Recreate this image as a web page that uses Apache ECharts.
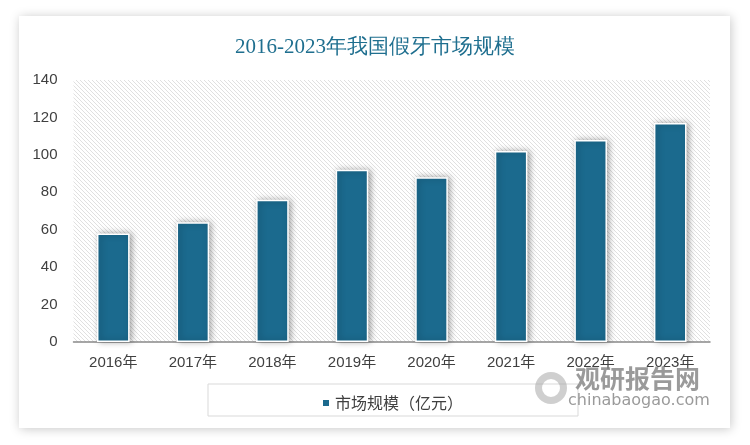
<!DOCTYPE html>
<html><head><meta charset="utf-8">
<script src="https://cdn.jsdelivr.net/npm/echarts@6/dist/echarts.min.js"></script>
<style>html,body{margin:0;padding:0;background:#fff;}#c{width:750px;height:445px;}</style>
</head><body><div id="c"></div>
<script>
var categories = ['2016年','2017年','2018年','2019年','2020年','2021年','2022年','2023年'];
var marketSize = [58, 64, 76, 92, 88, 102, 108, 117];
var seriesName = '市场规模（亿元）';
var titleText = '2016-2023年我国假牙市场规模';

var pc = document.createElement('canvas');
pc.width = 4; pc.height = 4;
var g = pc.getContext('2d');
g.fillStyle = '#ffffff'; g.fillRect(0,0,4,4);
g.strokeStyle = '#e0e0e0'; g.lineWidth = 1;
g.beginPath();
g.moveTo(-1,-1); g.lineTo(5,5);
g.moveTo(-1,3); g.lineTo(1,5);
g.moveTo(3,-1); g.lineTo(5,1);
g.stroke();

var chart = echarts.init(document.getElementById('c'));
chart.setOption({
  animation: false,
  title: {
    text: titleText, left: 'center', top: 32,
    textStyle: {color: '#1f6f8f', fontSize: 21, fontWeight: 'normal', fontFamily: 'Liberation Serif, DejaVu Serif, serif'}
  },
  graphic: [
    {type: 'rect', z: -10, shape: {x: 19, y: 16, width: 711, height: 412},
     style: {fill: '#fff', shadowBlur: 10, shadowColor: 'rgba(0,0,0,0.22)', shadowOffsetX: 1, shadowOffsetY: 1}},
    {type: 'rect', z: 1, shape: {x: 208, y: 384, width: 370, height: 32},
     style: {fill: 'none', stroke: '#d9d9d9', lineWidth: 1}},
    {type: 'text', z: 20, left: 575, top: 366,
     style: {text: '观研报告网', fill: 'rgba(120,120,120,0.75)', font: 'bold 25px "Noto Sans CJK SC"'}},
    {type: 'text', z: 20, left: 568, top: 393,
     style: {text: 'chinabaogao.com', fill: 'rgba(120,120,120,0.75)', font: '16px "DejaVu Sans"'}},
    {type: 'ring', z: 20, shape: {cx: 551, cy: 388, r: 16, r0: 9},
     style: {fill: 'rgba(160,160,160,0.5)'}}
  ],
  legend: {
    data: [seriesName], left: 316, top: 390, icon: 'rect', itemWidth: 8, itemHeight: 8, itemGap: 6,
    textStyle: {fontSize: 16, color: '#404040', fontFamily: 'Noto Sans CJK SC'}
  },
  grid: {
    left: 73.5, right: 40, top: 80, bottom: 103, containLabel: false,
    show: true, borderWidth: 0, backgroundColor: {image: pc, repeat: 'repeat'}
  },
  xAxis: {
    type: 'category', data: categories,
    axisLine: {lineStyle: {color: '#898989', width: 1.5}},
    axisTick: {show: false},
    axisLabel: {color: '#404040', fontSize: 15, margin: 13, fontFamily: 'Liberation Sans, Noto Sans CJK SC'}
  },
  yAxis: {
    type: 'value', min: 0, max: 140, interval: 20,
    axisLine: {show: false}, axisTick: {show: false}, splitLine: {show: false},
    axisLabel: {color: '#404040', fontSize: 15, margin: 16, fontFamily: 'Liberation Sans'}
  },
  series: [{
    name: seriesName, type: 'bar', data: marketSize, barWidth: '41%',
    itemStyle: {color: '#1b6a8e', borderColor: '#ffffff', borderWidth: 1.5,
      shadowBlur: 6, shadowColor: 'rgba(0,0,0,0.35)', shadowOffsetX: 2, shadowOffsetY: 0}
  }]
});
</script></body></html>
